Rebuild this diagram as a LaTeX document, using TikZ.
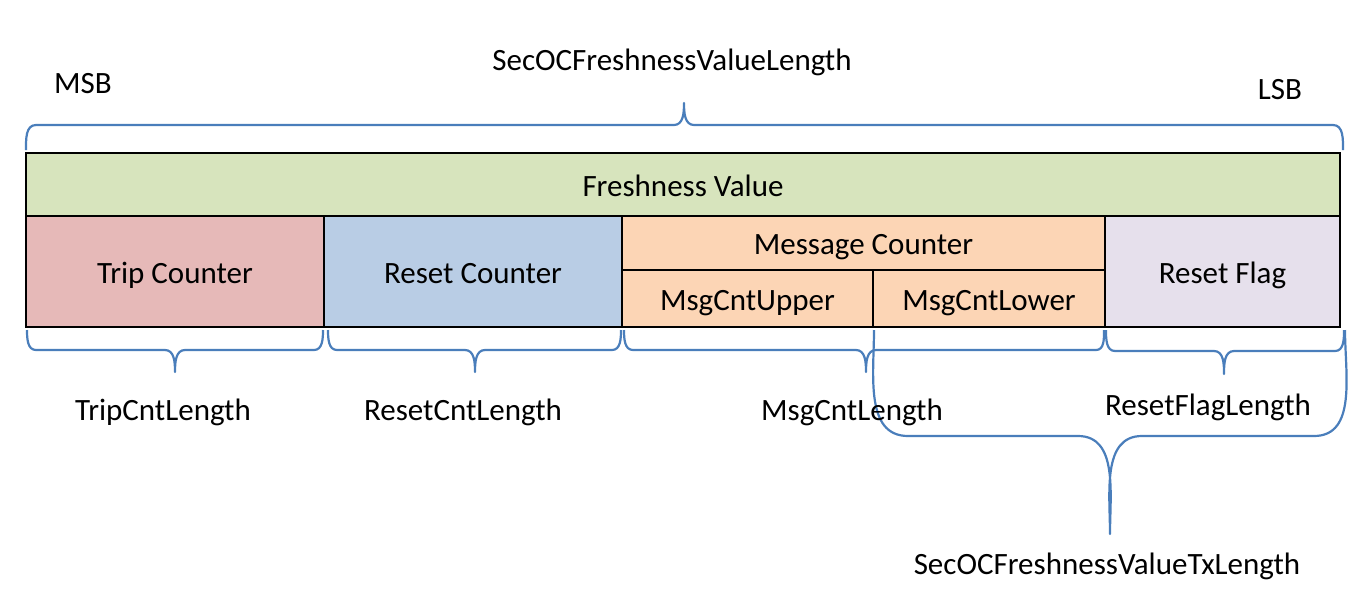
\documentclass[tikz,border=0pt]{standalone}
\usepackage{fontspec}
\setmainfont{Carlito}
\definecolor{fvgreen}{HTML}{D7E4BD}
\definecolor{tripred}{HTML}{E6B9B8}
\definecolor{resetblue}{HTML}{B9CDE5}
\definecolor{msgorange}{HTML}{FCD5B5}
\definecolor{flaglav}{HTML}{E6E0EC}
\definecolor{braceblue}{HTML}{4A7EBB}
\tikzset{
  field/.style={draw=black, line width=2.4pt, inner sep=0pt, outer sep=0pt,
    anchor=north west, text height=23.5pt, text depth=0pt,
    font=\fontsize{31}{37}\selectfont},
  lbl/.style={font=\fontsize{31}{37}\selectfont, inner sep=0pt},
  bracepath/.style={draw=braceblue, line width=2.2pt, line join=round}
}
\begin{document}
\begin{tikzpicture}[x=1pt,y=-1pt]
\useasboundingbox (0,0) rectangle (1370,600);
% fields
\node[field, fill=fvgreen, minimum width=1314pt, minimum height=63pt] (fv) at (26,153) {Freshness Value};
\node[field, fill=tripred, minimum width=298pt, minimum height=111pt] (trip) at (26,216) {Trip Counter};
\node[field, fill=resetblue, minimum width=298pt, minimum height=111pt] (reset) at (324,216) {Reset Counter};
\node[field, fill=msgorange, minimum width=483pt, minimum height=54pt] (msg) at (622,216) {Message Counter};
\node[field, fill=msgorange, minimum width=251pt, minimum height=57pt] (upper) at (622,270) {MsgCntUpper};
\node[field, fill=msgorange, minimum width=232pt, minimum height=57pt] (lower) at (873,270) {MsgCntLower};
\node[field, fill=flaglav, minimum width=235pt, minimum height=111pt] (flag) at (1105,216) {Reset Flag};
% top labels
\node[lbl] (msb) at (83,84) {MSB};
\node[lbl] (lsb) at (1280,90) {LSB};
\node[lbl] (fvlen) at (672,62) {SecOCFreshnessValueLength};
% top brace (pointing up)
\path[bracepath] (26,150) to[out=90,in=180] (36,125) -- (674,125)
  to[out=0,in=-90] (684,103) to[out=-90,in=180] (694,125) -- (1333,125)
  to[out=0,in=90] (1343,150);
% bottom braces (pointing down)
\path[bracepath] (27,330) to[out=-90,in=180] (36,350) -- (165,350)
  to[out=0,in=90] (175,372) to[out=90,in=180] (185,350) -- (314,350)
  to[out=0,in=-90] (323,330);
\path[bracepath] (328,330) to[out=-90,in=180] (337,350) -- (465,350)
  to[out=0,in=90] (475,372) to[out=90,in=180] (485,350) -- (612,350)
  to[out=0,in=-90] (621,330);
\path[bracepath] (624,330) to[out=-90,in=180] (633,350) -- (856,350)
  to[out=0,in=90] (866,372) to[out=90,in=180] (876,350) -- (1096,350)
  to[out=0,in=-90] (1104,330);
\path[bracepath] (1106,330) to[out=-90,in=180] (1115,351) -- (1214,351)
  to[out=0,in=90] (1224,374) to[out=90,in=180] (1234,351) -- (1335,351)
  to[out=0,in=-90] (1344,330);
% large Tx brace
\path[bracepath] (874,330) to[out=-90,in=180] (908,436) -- (1078,436)
  to[out=0,in=90] (1110,534) to[out=90,in=180] (1142,436) -- (1314,436)
  to[out=0,in=-90] (1345,330);
% bottom labels
\node[lbl] (triplen) at (163,412) {TripCntLength};
\node[lbl] (resetlen) at (463,412) {ResetCntLength};
\node[lbl] (msglen) at (852,412) {MsgCntLength};
\node[lbl] (flaglen) at (1208,407) {ResetFlagLength};
\node[lbl] (txlen) at (1107,566) {SecOCFreshnessValueTxLength};
\end{tikzpicture}
\end{document}
